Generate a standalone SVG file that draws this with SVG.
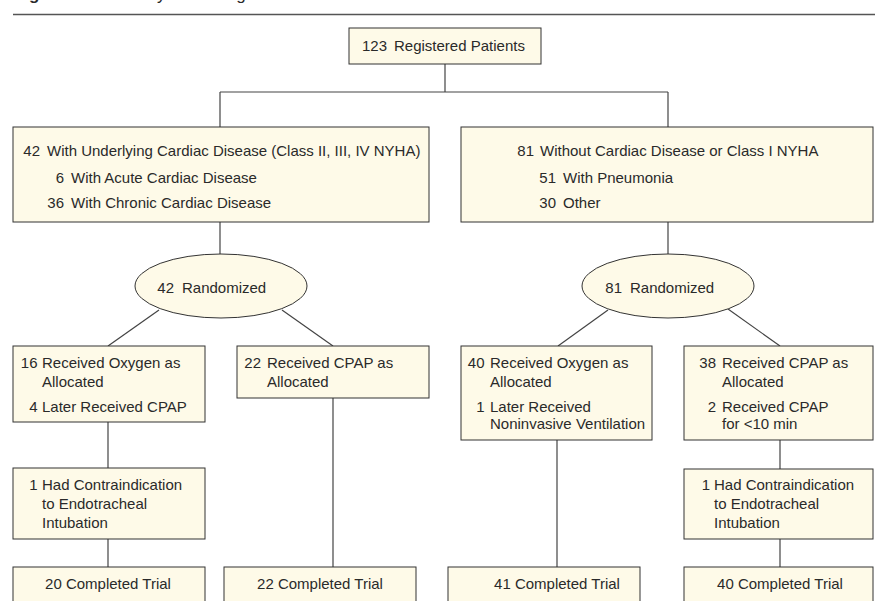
<svg xmlns="http://www.w3.org/2000/svg" width="875" height="601" viewBox="0 0 875 601">
<style>
.box{fill:#fefae8;stroke:#333;stroke-width:1}
.ln{stroke:#444;stroke-width:1.2;fill:none}
text{font-family:"Liberation Sans",Arial,sans-serif;font-size:15px;fill:#2a2a2a}
.e{text-anchor:end}
.m{text-anchor:middle}
</style>
<rect width="875" height="601" fill="#ffffff"/>
<text x="14" y="0" style="font-weight:bold;font-size:17px">Figure.</text>
<text x="122" y="0" style="font-size:17px">Study Flow Diagram</text>
<line x1="13" y1="14.5" x2="875" y2="14.5" stroke="#555" stroke-width="1.6"/>
<g id="connectors">
<line class="ln" x1="445" y1="64" x2="445" y2="92"/>
<line class="ln" x1="220" y1="92" x2="668" y2="92"/>
<line class="ln" x1="220" y1="92" x2="220" y2="127"/>
<line class="ln" x1="668" y1="92" x2="668" y2="127"/>
<line class="ln" x1="220" y1="222" x2="220" y2="254"/>
<line class="ln" x1="668" y1="222" x2="668" y2="254"/>
<line class="ln" x1="159" y1="310" x2="108" y2="346"/>
<line class="ln" x1="282" y1="310" x2="333" y2="346"/>
<line class="ln" x1="608" y1="310" x2="558" y2="346"/>
<line class="ln" x1="728" y1="309" x2="780" y2="346"/>
<line class="ln" x1="108" y1="422" x2="108" y2="468"/>
<line class="ln" x1="108" y1="539" x2="108" y2="567"/>
<line class="ln" x1="333" y1="398" x2="333" y2="567"/>
<line class="ln" x1="557" y1="440" x2="557" y2="567"/>
<line class="ln" x1="780" y1="440" x2="780" y2="469"/>
<line class="ln" x1="780" y1="539" x2="780" y2="567"/>
</g>
<g id="registered">
<rect class="box" x="349" y="28" width="192" height="36"/>
<text x="387" y="51" class="e">123</text><text x="394" y="51">Registered Patients</text>
</g>
<g id="cardiac">
<rect class="box" x="13" y="127" width="416" height="95"/>
<text x="40" y="156" class="e">42</text><text x="47" y="156">With Underlying Cardiac Disease (Class II, III, IV NYHA)</text>
<text x="64" y="183" class="e">6</text><text x="71" y="183">With Acute Cardiac Disease</text>
<text x="64" y="208" class="e">36</text><text x="71" y="208">With Chronic Cardiac Disease</text>
</g>
<g id="noncardiac">
<rect class="box" x="461" y="127" width="412" height="95"/>
<text x="534" y="156" class="e">81</text><text x="540" y="156">Without Cardiac Disease or Class I NYHA</text>
<text x="556" y="183" class="e">51</text><text x="563" y="183">With Pneumonia</text>
<text x="556" y="208" class="e">30</text><text x="563" y="208">Other</text>
</g>
<g id="rand1">
<ellipse class="box" cx="221" cy="286" rx="86" ry="32"/>
<text x="174" y="293" class="e">42</text><text x="182" y="293">Randomized</text>
</g>
<g id="rand2">
<ellipse class="box" cx="668" cy="286" rx="86" ry="32"/>
<text x="622" y="293" class="e">81</text><text x="630" y="293">Randomized</text>
</g>
<g id="oxy1">
<rect class="box" x="13" y="346" width="192" height="76"/>
<text x="37.5" y="368" class="e">16</text><text x="42" y="368">Received Oxygen as</text>
<text x="42" y="387">Allocated</text>
<text x="37.5" y="412" class="e">4</text><text x="42" y="412">Later Received CPAP</text>
</g>
<g id="cpap1">
<rect class="box" x="237" y="346" width="192" height="52"/>
<text x="261" y="368" class="e">22</text><text x="267" y="368">Received CPAP as</text>
<text x="267" y="387">Allocated</text>
</g>
<g id="oxy2">
<rect class="box" x="461" y="346" width="191" height="94"/>
<text x="484.5" y="368" class="e">40</text><text x="490" y="368">Received Oxygen as</text>
<text x="490" y="387">Allocated</text>
<text x="484.5" y="412" class="e">1</text><text x="490" y="412">Later Received</text>
<text x="490" y="429">Noninvasive Ventilation</text>
</g>
<g id="cpap2">
<rect class="box" x="684" y="346" width="189" height="94"/>
<text x="716" y="368" class="e">38</text><text x="722" y="368">Received CPAP as</text>
<text x="722" y="387">Allocated</text>
<text x="716" y="412" class="e">2</text><text x="722" y="412">Received CPAP</text>
<text x="722" y="429">for &lt;10 min</text>
</g>
<g id="contra1">
<rect class="box" x="13" y="468" width="192" height="71"/>
<text x="37.5" y="490" class="e">1</text><text x="42" y="490">Had Contraindication</text>
<text x="42" y="509">to Endotracheal</text>
<text x="42" y="528">Intubation</text>
</g>
<g id="contra2">
<rect class="box" x="684" y="469" width="189" height="70"/>
<text x="710" y="490" class="e">1</text><text x="714" y="490">Had Contraindication</text>
<text x="714" y="509">to Endotracheal</text>
<text x="714" y="528">Intubation</text>
</g>
<g id="done1">
<rect class="box" x="13" y="567" width="192" height="40"/>
<text x="108" y="589" class="m">20 Completed Trial</text>
</g>
<g id="done2">
<rect class="box" x="224" y="567" width="192" height="40"/>
<text x="320" y="589" class="m">22 Completed Trial</text>
</g>
<g id="done3">
<rect class="box" x="448" y="567" width="192" height="40"/>
<text x="557" y="589" class="m">41 Completed Trial</text>
</g>
<g id="done4">
<rect class="box" x="684" y="567" width="189" height="40"/>
<text x="780" y="589" class="m">40 Completed Trial</text>
</g>
</svg>
